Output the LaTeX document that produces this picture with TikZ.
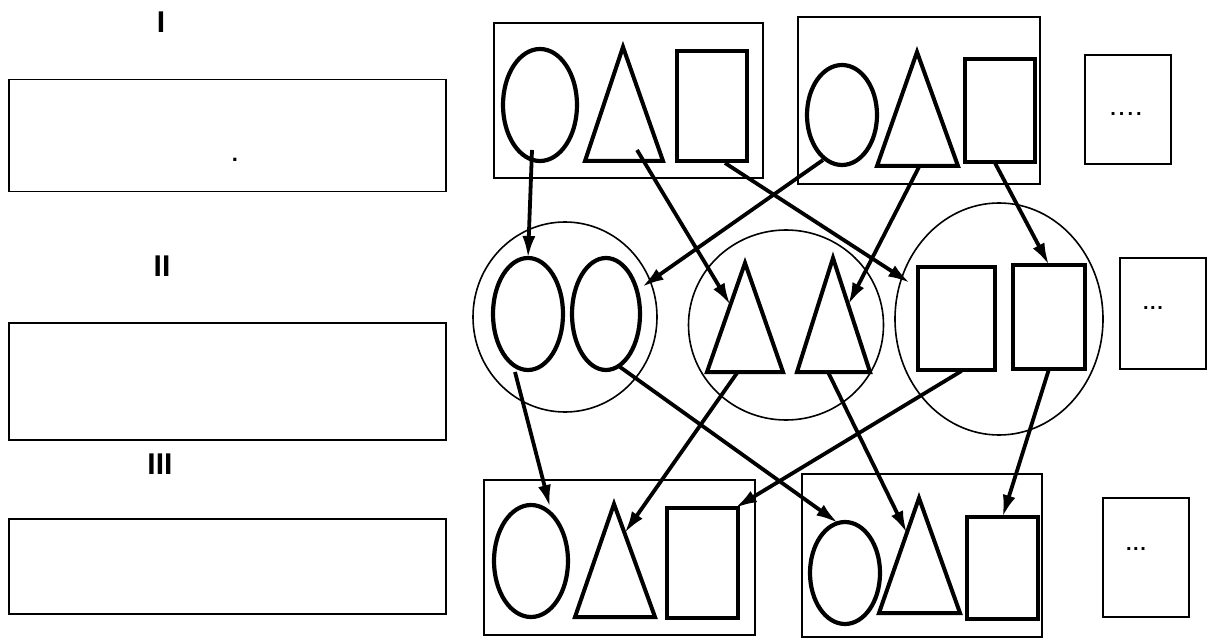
\documentclass[tikz,border=0pt]{standalone}
\usepackage{fontspec}
\setmainfont{Liberation Sans}
\usetikzlibrary{shapes.geometric,arrows.meta,calc}
\tikzset{
  ell/.style={draw, ellipse, line width=4.2pt, inner sep=0pt, outer sep=0pt},
  rct/.style={draw, rectangle, line width=4.4pt, inner sep=0pt, outer sep=0pt},
  tri/.style={line width=4pt, line join=miter},
  grp/.style={draw, rectangle, line width=2.1pt, inner sep=0pt, outer sep=0pt},
  ring/.style={draw, ellipse, line width=1.6pt, inner sep=0pt, outer sep=0pt},
  arr/.style={line width=3.8pt, -{Latex[length=22pt,width=13pt]}},
  lbl/.style={font=\fontsize{30}{30}\selectfont\bfseries, inner sep=0pt},
  panel/.style={draw, rectangle, line width=1.8pt, inner sep=0pt},
  dotbox/.style={draw, rectangle, line width=2pt, inner sep=0pt},
  dottxt/.style={font=\fontsize{20}{20}\selectfont\bfseries, inner sep=0pt}
}
\begin{document}
\begin{tikzpicture}[x=1pt,y=-1pt]
\useasboundingbox (0,0) rectangle (1210,639);
\fill[white] (0,0) rectangle (1210,639);

% left panel
\node[lbl] (l1) at (161,22.5) {I};
\node[lbl] (l2) at (162,266) {II};
\node[lbl] (l3) at (160,464) {III};
\node[panel, minimum width=437pt, minimum height=112pt] (p1) at (227.5,135.5) {};
\node[font=\fontsize{22}{22}\selectfont\bfseries, inner sep=0pt] (pdot) at (235,160) {.};
\node[panel, minimum width=437pt, minimum height=117pt] (p2) at (227.5,381.5) {};
\node[panel, minimum width=437pt, minimum height=95pt] (p3) at (227.5,566.5) {};

% group boxes
\node[grp, minimum width=269pt, minimum height=155pt] (gA) at (628.5,100.5) {};
\node[grp, minimum width=242pt, minimum height=167pt] (gB) at (919,100.5) {};
\node[grp, minimum width=271pt, minimum height=155pt] (gC) at (619.5,557.5) {};
\node[grp, minimum width=240pt, minimum height=163pt] (gD) at (922,555.5) {};

% rings
\node[ring, minimum width=184pt, minimum height=190pt] (c1) at (565,317) {};
\node[ring, minimum width=195pt, minimum height=190pt] (c2) at (786,325) {};
\node[ring, minimum width=208pt, minimum height=232pt] (c3) at (999,319) {};

% ellipses
\node[ell, minimum width=74pt, minimum height=112pt] (e1) at (540,105) {};
\node[ell, minimum width=70pt, minimum height=100pt] (e2) at (842,115) {};
\node[ell, minimum width=70pt, minimum height=112pt] (e3) at (528,314) {};
\node[ell, minimum width=68pt, minimum height=112pt] (e4) at (606,314) {};
\node[ell, minimum width=74pt, minimum height=112pt] (e5) at (531,561) {};
\node[ell, minimum width=70pt, minimum height=102pt] (e6) at (845,573) {};

% rectangles
\node[rct, minimum width=70pt, minimum height=110pt] (r1) at (712,106) {};
\node[rct, minimum width=70pt, minimum height=103pt] (r2) at (1000,110.5) {};
\node[rct, minimum width=77pt, minimum height=103pt] (r3) at (956.5,318.5) {};
\node[rct, minimum width=72pt, minimum height=104pt] (r4) at (1049,317) {};
\node[rct, minimum width=71pt, minimum height=110pt] (r5) at (702.5,563) {};
\node[rct, minimum width=71pt, minimum height=102pt] (r6) at (1002.5,568) {};

% triangles
\coordinate (t1a) at (623,47);  \coordinate (t1l) at (585,161); \coordinate (t1r) at (663,161);
\coordinate (t2a) at (917,52);  \coordinate (t2l) at (877,166); \coordinate (t2r) at (958,166);
\coordinate (t3a) at (745,263); \coordinate (t3l) at (707,372); \coordinate (t3r) at (783,372);
\coordinate (t4a) at (833,258); \coordinate (t4l) at (797,372); \coordinate (t4r) at (870,372);
\coordinate (t5a) at (614,504); \coordinate (t5l) at (575,617); \coordinate (t5r) at (655,617);
\coordinate (t6a) at (919,498); \coordinate (t6l) at (879,613); \coordinate (t6r) at (960,613);
\foreach \t in {t1,t2,t3,t4,t5,t6}{
  \draw[tri] (\t a) -- (\t l) -- (\t r) -- cycle;
}

% dots boxes
\node[dotbox, minimum width=86pt, minimum height=109pt] (d1) at (1128,109.5) {};
\node[dottxt] (d1t) at (1126,114) {.\hspace{3pt}.\hspace{3pt}.\hspace{3pt}.};
\node[dotbox, minimum width=86pt, minimum height=111pt] (d2) at (1163,313.5) {};
\node[dottxt] (d2t) at (1153,308) {.\hspace{1.5pt}.\hspace{1.5pt}.};
\node[dotbox, minimum width=86pt, minimum height=119pt] (d3) at (1146,557.5) {};
\node[dottxt] (d3t) at (1136,549) {.\hspace{1.5pt}.\hspace{1.5pt}.};

% arrows top -> middle
\draw[arr] ($(e1.center)+(-8,45)$) -- (e3.north);
\draw[arr] ($(t1r)+(-26,-11)$) -- ($(t3a)!0.385!(t3l)$);
\draw[arr] ($(r1.south)+(13,2)$) -- ($(r3.north west)+(-8,16)$);
\draw[arr] ($(e2.center)+(-19,45)$) -- ($(e4.center)+(36,-27)$);
\draw[arr] ($(t2r)+(-38,-1)$) -- ($(t4a)!0.41!(t4r)$);
\draw[arr] ($(r2.south)+(-5,1)$) -- (r4.north);

% arrows middle -> bottom
\draw[arr] ($(e3.center)+(-13,58)$) -- ($(e5.center)+(19,-54)$);
\draw[arr] ($(e4.center)+(14,53)$) -- ($(e6.center)+(-7,-50)$);
\draw[arr] ($(t3l)+(30,1)$) -- ($(t5a)!0.257!(t5r)$);
\draw[arr] ($(r3.south)+(5,1)$) -- ($(r5.north east)+(-3,0)$);
\draw[arr] ($(t4l)+(31,0)$) -- ($(t6a)!0.304!(t6l)$);
\draw[arr] (r4.south) -- (r6.north);
\end{tikzpicture}
\end{document}
